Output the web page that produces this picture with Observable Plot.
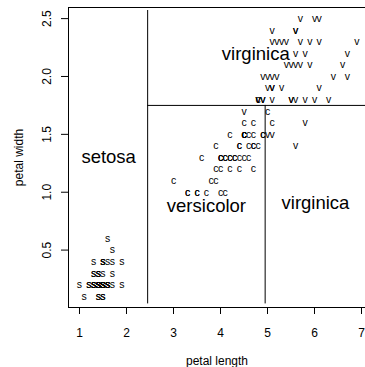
<!DOCTYPE html>
<html>
<head>
<meta charset="utf-8">
<script src="https://cdn.jsdelivr.net/npm/d3@7"></script>
<script src="https://cdn.jsdelivr.net/npm/@observablehq/plot@0.6"></script>
<style>
html,body{margin:0;padding:0;background:#fff;overflow:hidden;}
svg{display:block;}
</style>
</head>
<body>
<div id="chart"></div>
<script>
const speciesNames = ["setosa", "versicolor", "virginica"];
const speciesLetters = ["s", "c", "v"];

const petalLength = [
1.4,1.4,1.3,1.5,1.4,1.7,1.4,1.5,1.4,1.5,1.5,1.6,1.4,1.1,1.2,1.5,1.3,1.4,1.7,1.5,1.7,1.5,1.0,1.7,1.9,1.6,1.6,1.5,1.4,1.6,1.6,1.5,1.5,1.4,1.5,1.2,1.3,1.4,1.3,1.5,1.3,1.3,1.3,1.6,1.9,1.4,1.6,1.4,1.5,1.4,
4.7,4.5,4.9,4.0,4.6,4.5,4.7,3.3,4.6,3.9,3.5,4.2,4.0,4.7,3.6,4.4,4.5,4.1,4.5,3.9,4.8,4.0,4.9,4.7,4.3,4.4,4.8,5.0,4.5,3.5,3.8,3.7,3.9,5.1,4.5,4.5,4.7,4.4,4.1,4.0,4.4,4.6,4.0,3.3,4.2,4.2,4.2,4.3,3.0,4.1,
6.0,5.1,5.9,5.6,5.8,6.6,4.5,6.3,5.8,6.1,5.1,5.3,5.5,5.0,5.1,5.3,5.5,6.7,6.9,5.0,5.7,4.9,6.7,4.9,5.7,6.0,4.8,4.9,5.6,5.8,6.1,6.4,5.6,5.1,5.6,6.1,5.6,5.5,4.8,5.4,5.6,5.1,5.1,5.9,5.7,5.2,5.0,5.2,5.4,5.1
];
const petalWidth = [
0.2,0.2,0.2,0.2,0.2,0.4,0.3,0.2,0.2,0.1,0.2,0.2,0.1,0.1,0.2,0.4,0.4,0.3,0.3,0.3,0.2,0.4,0.2,0.5,0.2,0.2,0.4,0.2,0.2,0.2,0.2,0.4,0.1,0.2,0.2,0.2,0.2,0.1,0.2,0.2,0.3,0.3,0.2,0.6,0.4,0.3,0.2,0.2,0.2,0.2,
1.4,1.5,1.5,1.3,1.5,1.3,1.6,1.0,1.3,1.4,1.0,1.5,1.0,1.4,1.3,1.4,1.5,1.0,1.5,1.1,1.8,1.3,1.5,1.2,1.3,1.4,1.4,1.7,1.5,1.0,1.1,1.0,1.2,1.6,1.5,1.6,1.5,1.3,1.3,1.3,1.2,1.4,1.2,1.0,1.3,1.2,1.3,1.3,1.1,1.3,
2.5,1.9,2.1,1.8,2.2,2.1,1.7,1.8,1.8,2.5,2.0,1.9,2.1,2.0,2.4,2.3,1.8,2.2,2.3,1.5,2.3,2.0,2.0,1.8,2.1,1.8,1.8,1.8,2.1,1.6,1.9,2.0,2.2,1.5,1.4,2.3,2.4,1.8,1.8,2.1,2.4,2.3,1.9,2.3,2.5,2.3,1.9,2.0,2.3,1.8
];
const speciesCount = [50, 50, 50];

// decision-tree splits
const splitX1 = 2.45;
const splitY = 1.75;
const splitX2 = 4.95;

// region labels
const regionText = ["setosa", "virginica", "versicolor", "virginica"];
const regionX = [1.62, 4.75, 3.7, 6.02];
const regionY = [1.30, 2.19, 0.88, 0.91];

const xTicks = [1, 2, 3, 4, 5, 6, 7];
const yTicks = [0.5, 1.0, 1.5, 2.0, 2.5];

const points = [];
let k = 0;
speciesCount.forEach((n, si) => {
  for (let i = 0; i < n; i++, k++) {
    points.push({len: petalLength[k], wid: petalWidth[k], letter: speciesLetters[si], species: speciesNames[si]});
  }
});
const regions = regionText.map((t, i) => ({t, x: regionX[i], y: regionY[i]}));

const xMin = 0.766, xMax = 7.085, yMin = 0.004, yMax = 2.596;
const yLow = 0.035, yHigh = 2.57;

const font = "Liberation Sans, Arial, Helvetica, sans-serif";

const chart = Plot.plot({
  width: 365,
  height: 367,
  marginLeft: 68,
  marginRight: 0,
  marginTop: 7,
  marginBottom: 60,
  style: {fontFamily: font, background: "#fff", color: "#000"},
  x: {domain: [xMin, xMax]},
  y: {domain: [yMin, yMax]},
  marks: [
    Plot.frame({stroke: "#000", strokeWidth: 1}),
    Plot.axisX({ticks: xTicks, tickSize: 7, tickPadding: 14, fontSize: 12, tickFormat: d => String(d),
      label: "petal length", labelAnchor: "center", labelOffset: 57, labelArrow: "none", stroke: "#000"}),
    Plot.axisY({ticks: yTicks, tickSize: 7, tickPadding: 11, fontSize: 12, tickRotate: -90, tickFormat: d3.format(".1f"),
      label: "petal width", labelAnchor: "center", labelOffset: 54, labelArrow: "none", stroke: "#000"}),
    Plot.ruleX([splitX1], {y1: yLow, y2: yHigh, stroke: "#000", strokeWidth: 1}),
    Plot.ruleY([splitY], {x1: splitX1, x2: xMax, stroke: "#000", strokeWidth: 1}),
    Plot.ruleX([splitX2], {y1: yLow, y2: splitY, stroke: "#000", strokeWidth: 1}),
    Plot.text(points, {x: "len", y: "wid", text: "letter", fontSize: 10.5, fill: "#000"}),
    Plot.text(regions, {x: "x", y: "y", text: "t", fontSize: 18.5, fill: "#000"})
  ]
});
document.getElementById("chart").appendChild(chart);
</script>
</body>
</html>
